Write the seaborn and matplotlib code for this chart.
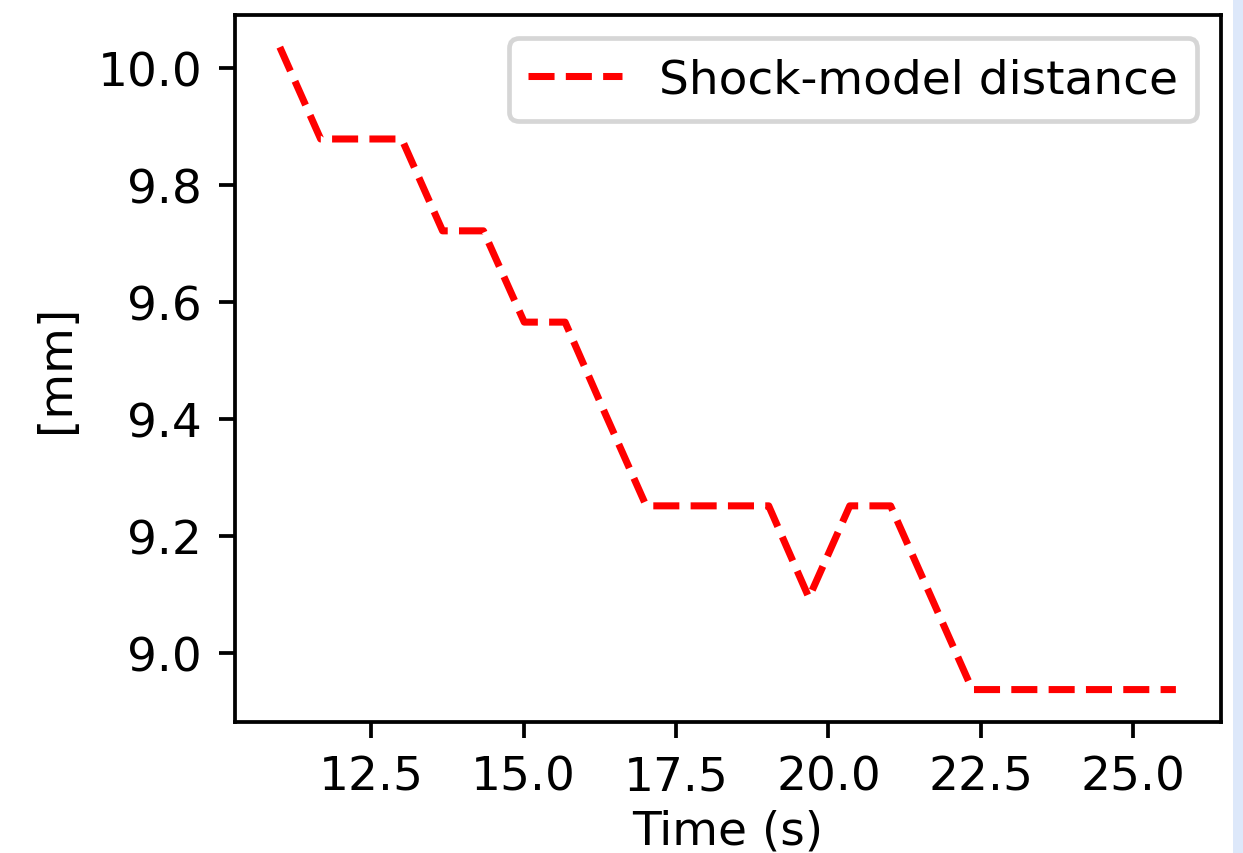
import matplotlib
matplotlib.use("Agg")
import matplotlib.pyplot as plt
import seaborn as sns
import pandas as pd
from matplotlib.patches import Rectangle
from matplotlib.ticker import MultipleLocator

time_s = [11.00, 11.67, 12.34, 13.00, 13.67, 14.34, 15.01, 15.68, 16.34, 17.01,
          17.68, 18.35, 19.02, 19.68, 20.35, 21.02, 21.69, 22.36, 23.02, 23.69,
          24.36, 25.03, 25.70]
distance_mm = [10.035, 9.878, 9.878, 9.878, 9.721, 9.721, 9.565, 9.565, 9.408, 9.251,
               9.251, 9.251, 9.251, 9.094, 9.251, 9.251, 9.094, 8.937, 8.937, 8.937,
               8.937, 8.937, 8.937]
series_label = "Shock-model distance"

df = pd.DataFrame({"Time (s)": time_s, "[mm]": distance_mm})

DPI = 338
fig = plt.figure(figsize=(1243 / DPI, 854 / DPI), dpi=DPI)
ax = fig.add_axes([235 / 1243, 1 - 722.7 / 854, (1220.7 - 235) / 1243, (722.7 - 16) / 854])

sns.lineplot(data=df, x="Time (s)", y="[mm]", ax=ax, color="red",
             linestyle="--", linewidth=1.5, label=series_label)

ax.xaxis.set_major_locator(MultipleLocator(2.5))
ax.yaxis.set_major_locator(MultipleLocator(0.2))
ax.set_xlabel("Time (s)", labelpad=2.0)
ax.set_ylabel("[mm]")
ax.legend(loc="upper right")

fig.patches.append(Rectangle((1233 / 1243, 0), 10 / 1243, 1, transform=fig.transFigure,
                             facecolor="#dde8fa", edgecolor="none", zorder=-1))

fig.savefig("out.png", dpi=DPI)
